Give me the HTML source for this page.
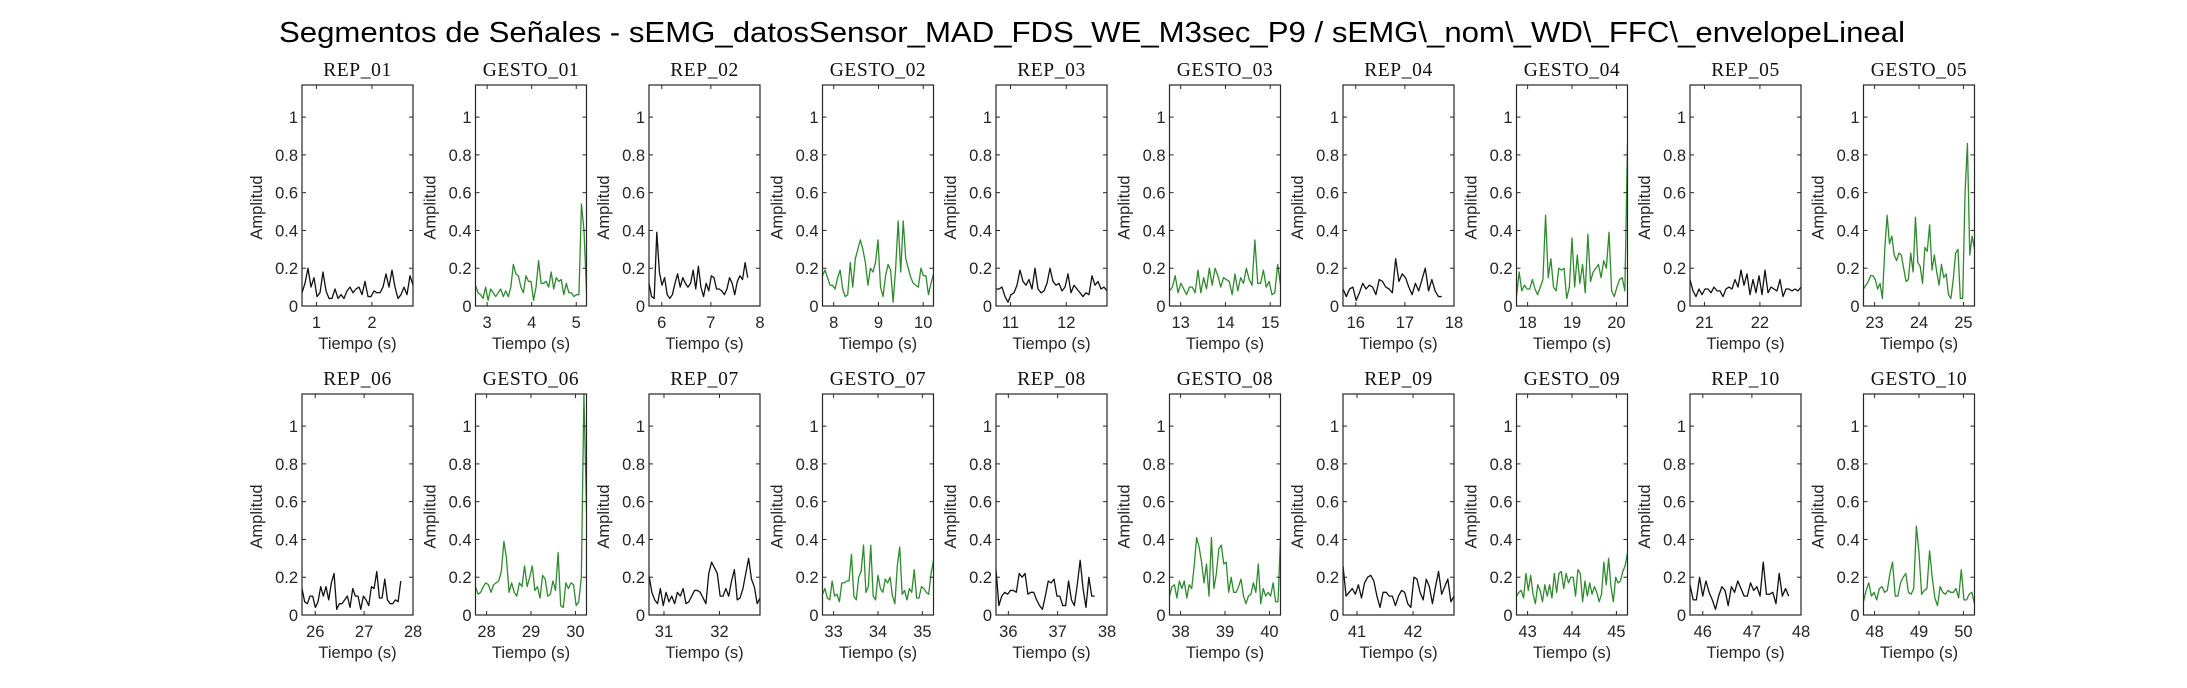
<!DOCTYPE html>
<html><head><meta charset="utf-8"><style>
html,body{margin:0;padding:0;background:#fff;}
svg{display:block;}
</style></head><body>
<svg id="fig" width="2187" height="688" viewBox="0 0 2187 688" xmlns="http://www.w3.org/2000/svg">
<rect width="2187" height="688" fill="#fff"/>
<text x="279" y="42" font-family="Liberation Sans, sans-serif" font-size="29" textLength="1626" lengthAdjust="spacingAndGlyphs" fill="#000">Segmentos de Señales - sEMG_datosSensor_MAD_FDS_WE_M3sec_P9 / sEMG\_nom\_WD\_FFC\_envelopeLineal</text>
<g id="panels"></g>
</svg>
<script>
const titles = ["REP_01","GESTO_01","REP_02","GESTO_02","REP_03","GESTO_03","REP_04","GESTO_04","REP_05","GESTO_05","REP_06","GESTO_06","REP_07","GESTO_07","REP_08","GESTO_08","REP_09","GESTO_09","REP_10","GESTO_10"];
const xMin = [0.74,2.74,5.74,7.75,10.74,12.75,15.74,17.75,20.74,22.75,25.73,27.75,30.73,32.75,35.75,37.75,40.75,42.75,45.74,47.75];
const xMax = [2.74,5.23,8.0,10.23,12.73,15.23,18.0,20.25,22.74,25.25,28.0,30.25,32.73,35.25,38.0,40.25,42.73,45.25,48.0,50.25];
const tStart = [0.74,2.74,5.74,7.75,10.74,12.75,15.74,17.75,20.74,22.75,25.73,27.75,30.73,32.75,35.75,37.75,40.75,42.75,45.74,47.75];
const tEnd = [2.74,5.23,7.75,10.23,12.73,15.23,17.75,20.25,22.74,25.25,27.75,30.25,32.73,35.25,37.75,40.25,42.73,45.25,47.75,50.25];
const xTicks = [[1,2],[3,4,5],[6,7,8],[8,9,10],[11,12],[13,14,15],[16,17,18],[18,19,20],[21,22],[23,24,25],[26,27,28],[28,29,30],[31,32],[33,34,35],[36,37,38],[38,39,40],[41,42],[43,44,45],[46,47,48],[48,49,50]];
const yTicks = [0,0.2,0.4,0.6,0.8,1];
const yMax = 1.17;
const s0 = [0.07,0.12,0.2,0.1,0.15,0.05,0.07,0.18,0.08,0.04,0.04,0.09,0.04,0.06,0.04,0.08,0.1,0.07,0.09,0.1,0.06,0.13,0.05,0.05,0.08,0.07,0.07,0.1,0.17,0.1,0.19,0.1,0.04,0.06,0.1,0.06,0.16,0.11];
const s1 = [0.11,0.07,0.06,0.04,0.1,0.03,0.09,0.07,0.05,0.07,0.09,0.05,0.08,0.05,0.1,0.22,0.17,0.16,0.1,0.07,0.16,0.13,0.13,0.03,0.1,0.24,0.12,0.12,0.13,0.1,0.18,0.09,0.15,0.13,0.14,0.06,0.12,0.07,0.07,0.05,0.06,0.06,0.54,0.4,0.08];
const s2 = [0.12,0.05,0.04,0.39,0.18,0.11,0.15,0.06,0.04,0.06,0.12,0.17,0.1,0.15,0.12,0.1,0.12,0.19,0.09,0.21,0.1,0.05,0.12,0.08,0.16,0.15,0.09,0.09,0.08,0.06,0.09,0.15,0.12,0.06,0.13,0.16,0.14,0.23,0.15];
const s3 = [0.16,0.19,0.15,0.11,0.11,0.09,0.15,0.19,0.09,0.05,0.06,0.23,0.1,0.25,0.3,0.35,0.3,0.23,0.11,0.2,0.18,0.23,0.35,0.1,0.05,0.16,0.22,0.19,0.02,0.2,0.45,0.18,0.45,0.25,0.2,0.15,0.12,0.11,0.1,0.2,0.16,0.16,0.06,0.12,0.17];
const s4 = [0.09,0.09,0.1,0.05,0.02,0.06,0.07,0.11,0.19,0.13,0.11,0.14,0.09,0.2,0.09,0.07,0.08,0.12,0.2,0.13,0.11,0.12,0.08,0.1,0.17,0.07,0.11,0.09,0.07,0.05,0.07,0.06,0.16,0.11,0.13,0.09,0.1,0.08];
const s5 = [0.08,0.1,0.16,0.07,0.12,0.09,0.06,0.1,0.1,0.07,0.19,0.07,0.15,0.09,0.2,0.11,0.2,0.16,0.1,0.15,0.14,0.13,0.06,0.17,0.08,0.15,0.12,0.2,0.14,0.11,0.35,0.12,0.12,0.19,0.1,0.13,0.06,0.07,0.22,0.11];
const s6 = [0.09,0.05,0.09,0.1,0.03,0.07,0.12,0.09,0.11,0.1,0.06,0.14,0.13,0.1,0.09,0.07,0.25,0.13,0.17,0.15,0.1,0.06,0.12,0.08,0.14,0.2,0.08,0.14,0.08,0.05,0.05];
const s7 = [0.05,0.18,0.08,0.11,0.09,0.09,0.14,0.09,0.06,0.1,0.14,0.48,0.15,0.25,0.1,0.08,0.2,0.19,0.2,0.04,0.1,0.36,0.1,0.27,0.12,0.22,0.07,0.38,0.13,0.18,0.2,0.22,0.15,0.24,0.2,0.39,0.08,0.05,0.1,0.14,0.15,0.08,0.86];
const s8 = [0.14,0.08,0.05,0.09,0.06,0.09,0.09,0.07,0.1,0.08,0.08,0.05,0.09,0.1,0.09,0.14,0.1,0.19,0.11,0.17,0.06,0.14,0.07,0.16,0.06,0.19,0.07,0.1,0.09,0.08,0.14,0.05,0.09,0.09,0.08,0.09,0.08,0.1];
const s9 = [0.09,0.11,0.13,0.16,0.16,0.14,0.09,0.12,0.04,0.3,0.48,0.33,0.37,0.27,0.24,0.28,0.27,0.2,0.13,0.14,0.28,0.18,0.47,0.23,0.21,0.12,0.31,0.29,0.43,0.19,0.27,0.18,0.11,0.22,0.15,0.17,0.06,0.04,0.14,0.28,0.3,0.04,0.04,0.6,0.86,0.27,0.37,0.3];
const s10 = [0.14,0.07,0.06,0.1,0.1,0.04,0.07,0.15,0.1,0.15,0.08,0.17,0.22,0.03,0.06,0.06,0.08,0.1,0.04,0.14,0.1,0.1,0.03,0.1,0.08,0.05,0.15,0.14,0.23,0.09,0.09,0.19,0.08,0.06,0.06,0.08,0.07,0.18];
const s11 = [0.15,0.11,0.12,0.15,0.17,0.16,0.12,0.16,0.17,0.18,0.23,0.39,0.3,0.12,0.17,0.12,0.1,0.17,0.15,0.26,0.15,0.2,0.26,0.13,0.15,0.09,0.21,0.19,0.1,0.11,0.18,0.13,0.33,0.05,0.04,0.17,0.14,0.17,0.16,0.05,0.07,0.2,1.17,0.55];
const s12 = [0.21,0.12,0.08,0.06,0.14,0.05,0.12,0.07,0.1,0.06,0.12,0.1,0.14,0.06,0.07,0.1,0.13,0.13,0.12,0.09,0.06,0.22,0.28,0.25,0.22,0.1,0.1,0.14,0.1,0.18,0.24,0.08,0.09,0.14,0.22,0.3,0.19,0.15,0.06,0.09];
const s13 = [0.11,0.14,0.09,0.08,0.18,0.1,0.11,0.07,0.17,0.17,0.18,0.18,0.32,0.1,0.08,0.2,0.23,0.37,0.12,0.15,0.37,0.1,0.08,0.21,0.14,0.12,0.19,0.17,0.2,0.1,0.06,0.26,0.36,0.11,0.13,0.08,0.14,0.12,0.24,0.09,0.09,0.15,0.14,0.12,0.11,0.22,0.29];
const s14 = [0.24,0.05,0.1,0.12,0.11,0.13,0.13,0.12,0.22,0.2,0.22,0.11,0.12,0.12,0.08,0.05,0.03,0.1,0.18,0.17,0.19,0.1,0.1,0.05,0.05,0.18,0.08,0.05,0.16,0.29,0.14,0.04,0.2,0.1,0.1];
const s15 = [0.1,0.15,0.16,0.09,0.18,0.14,0.18,0.09,0.16,0.14,0.26,0.41,0.36,0.28,0.17,0.27,0.1,0.41,0.14,0.22,0.35,0.37,0.27,0.28,0.12,0.2,0.12,0.12,0.15,0.19,0.1,0.06,0.1,0.11,0.17,0.12,0.27,0.06,0.14,0.1,0.12,0.1,0.17,0.07,0.07,0.41];
const s16 = [0.26,0.1,0.12,0.14,0.11,0.16,0.09,0.17,0.2,0.21,0.18,0.1,0.04,0.12,0.12,0.1,0.1,0.05,0.1,0.13,0.12,0.06,0.04,0.2,0.19,0.12,0.08,0.19,0.15,0.06,0.15,0.23,0.11,0.15,0.19,0.07,0.1];
const s17 = [0.1,0.12,0.13,0.09,0.22,0.13,0.21,0.11,0.06,0.16,0.13,0.07,0.16,0.1,0.16,0.09,0.22,0.12,0.22,0.23,0.14,0.22,0.17,0.2,0.2,0.1,0.24,0.22,0.07,0.18,0.1,0.17,0.11,0.15,0.12,0.07,0.11,0.28,0.16,0.3,0.15,0.07,0.2,0.17,0.18,0.23,0.26,0.33];
const s18 = [0.16,0.08,0.08,0.2,0.1,0.18,0.12,0.08,0.03,0.1,0.15,0.13,0.05,0.15,0.12,0.18,0.14,0.1,0.1,0.17,0.13,0.15,0.1,0.28,0.11,0.11,0.12,0.06,0.22,0.1,0.14,0.1];
const s19 = [0.07,0.13,0.17,0.1,0.12,0.08,0.14,0.15,0.12,0.13,0.22,0.28,0.1,0.1,0.17,0.2,0.22,0.12,0.11,0.14,0.47,0.33,0.11,0.13,0.14,0.34,0.2,0.09,0.05,0.15,0.12,0.11,0.13,0.12,0.12,0.14,0.09,0.24,0.08,0.08,0.11,0.12,0.06];
const series = [s0,s1,s2,s3,s4,s5,s6,s7,s8,s9,s10,s11,s12,s13,s14,s15,s16,s17,s18,s19];

const NS = "http://www.w3.org/2000/svg";
const root = document.getElementById('panels');
function mk(tag, attrs, parent){
  const e = document.createElementNS(NS, tag);
  for (const k in attrs) e.setAttribute(k, attrs[k]);
  parent.appendChild(e);
  return e;
}
const FONT = "Liberation Sans, sans-serif";
for (let i = 0; i < 20; i++) {
  const col = i % 10, row = Math.floor(i / 10);
  const L = 302 + col * 173.5, W = 111;
  const T = row === 0 ? 85 : 394, B = row === 0 ? 306 : 615;
  const xs = v => L + (v - xMin[i]) / (xMax[i] - xMin[i]) * W;
  const ys = v => B - v / yMax * (B - T);
  const g = mk('g', {}, root);
  
  
  const clipId = 'clip' + i;
  const cp = mk('clipPath', {id: clipId}, g);
  mk('rect', {x: L, y: T, width: W, height: B - T}, cp);
  const d = series[i];
  const n = d.length;
  let pts = d.map((v, k) => {
    const t = tStart[i] + (tEnd[i] - tStart[i]) * k / (n - 1);
    return xs(t).toFixed(2) + ',' + ys(v).toFixed(2);
  }).join(' ');
  const isG = titles[i].startsWith('GESTO');
  const line = mk('polyline', {points: pts, fill: 'none', stroke: isG ? '#2f8a2f' : '#111', 'stroke-width': 1.3, 'stroke-linejoin': 'round', 'clip-path': 'url(#' + clipId + ')'}, g);
  
  
  const box = mk('rect', {x: L, y: T, width: W, height: B - T, fill: 'none', stroke: '#262626', 'stroke-width': 1.2}, g);
  
  
  yTicks.forEach(v => {
    const y = ys(v);
    mk('line', {x1: L, x2: L + 4, y1: y, y2: y, stroke: '#262626', 'stroke-width': 1}, g);
    mk('line', {x1: L + W - 4, x2: L + W, y1: y, y2: y, stroke: '#262626', 'stroke-width': 1}, g);
    const t = mk('text', {x: L - 4, y: y + 6, 'text-anchor': 'end', 'font-family': FONT, 'font-size': 16.5, fill: '#262626'}, g);
    t.textContent = String(v);
    
    
  });
  xTicks[i].forEach(v => {
    const x = xs(v);
    mk('line', {x1: x, x2: x, y1: B, y2: B - 4, stroke: '#262626', 'stroke-width': 1}, g);
    mk('line', {x1: x, x2: x, y1: T, y2: T + 4, stroke: '#262626', 'stroke-width': 1}, g);
    const t = mk('text', {x: x, y: B + 22, 'text-anchor': 'middle', 'font-family': FONT, 'font-size': 16.5, fill: '#262626'}, g);
    t.textContent = String(v);
    
    
  });
  const xl = mk('text', {x: L + W / 2, y: B + 43, 'text-anchor': 'middle', 'font-family': FONT, 'font-size': 16.5, fill: '#262626'}, g);
  xl.textContent = 'Tiempo (s)';
  
  
  const ycx = L - 40, ycy = (T + B) / 2 + 12;
  const yl = mk('text', {x: ycx, y: ycy, 'text-anchor': 'middle', 'font-family': FONT, 'font-size': 16.5, fill: '#262626', transform: 'rotate(-90 ' + ycx + ' ' + ycy + ')'}, g);
  yl.textContent = 'Amplitud';
  
  
  const tt = mk('text', {x: L + W / 2, y: T - 9, 'text-anchor': 'middle', 'font-family': 'Liberation Serif, serif', 'font-size': 19.5, 'letter-spacing': '0.6', fill: '#111'}, g);
  tt.textContent = titles[i];
  
  
}
</script>
</body></html>
